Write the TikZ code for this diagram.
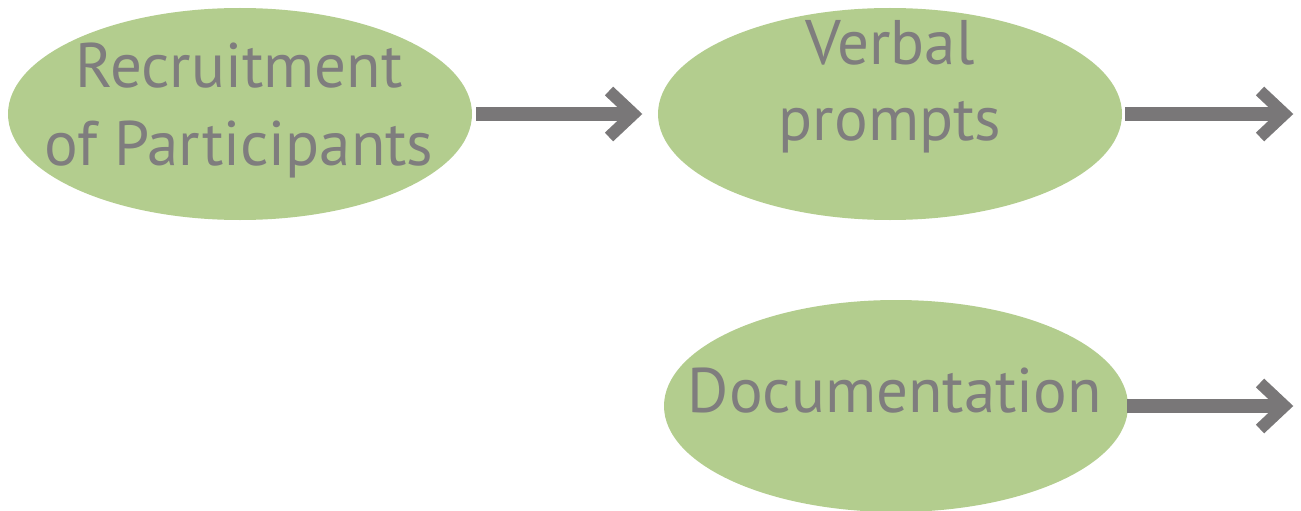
\documentclass[tikz,border=0pt]{standalone}
\usepackage{fontspec}
\setmainfont{PT Sans}
\usetikzlibrary{shapes.geometric,calc}
\definecolor{leaf}{RGB}{179,205,142}
\definecolor{slate}{RGB}{127,125,126}
\definecolor{shaftgray}{RGB}{121,119,120}
\begin{document}
\begin{tikzpicture}[x=1pt,y=-1pt,
  stage/.style={ellipse, fill=leaf, minimum width=464pt, minimum height=212pt, inner sep=0pt},
  lbl/.style={text=slate, font=\fontsize{63}{76}\selectfont, anchor=base, inner sep=0pt},
  shaft/.style={draw=shaftgray, line width=14pt},
  barb/.style={draw=shaftgray, line width=12pt, line join=miter, miter limit=10}]
\useasboundingbox (0,0) rectangle (1301,511);

% stages
\node[stage] (e1) at (240,114) {};
\node[stage] (e2) at (890,114) {};
\node[stage] (e3) at (896,406) {};

% labels
\node[lbl] (t1a) at (239,88) {Recruitment};
\node[lbl] (t1b) at (239,165) {of Participants};
\node[lbl] (t2a) at (890,64) {Verbal};
\node[lbl] (t2b) at (890,140) {prompts};
\node[lbl] (t3) at (895,412) {Documentation};

% arrow tips
\coordinate (h1) at (642,114);
\coordinate (h2) at (1293,114);
\coordinate (h3) at (1293,406);

% arrows
\draw[shaft] ([xshift=4pt]e1.east) -- ($(h1)+(-8,0)$);
\draw[barb] ($(h1)+(-33,-23)$) -- ($(h1)+(-8.5,0)$) -- ($(h1)+(-33,23)$);
\draw[shaft] ([xshift=3pt]e2.east) -- ($(h2)+(-8,0)$);
\draw[barb] ($(h2)+(-33,-23)$) -- ($(h2)+(-8.5,0)$) -- ($(h2)+(-33,23)$);
\draw[shaft] ([xshift=-1pt]e3.east) -- ($(h3)+(-8,0)$);
\draw[barb] ($(h3)+(-33,-23)$) -- ($(h3)+(-8.5,0)$) -- ($(h3)+(-33,23)$);
\end{tikzpicture}
\end{document}
